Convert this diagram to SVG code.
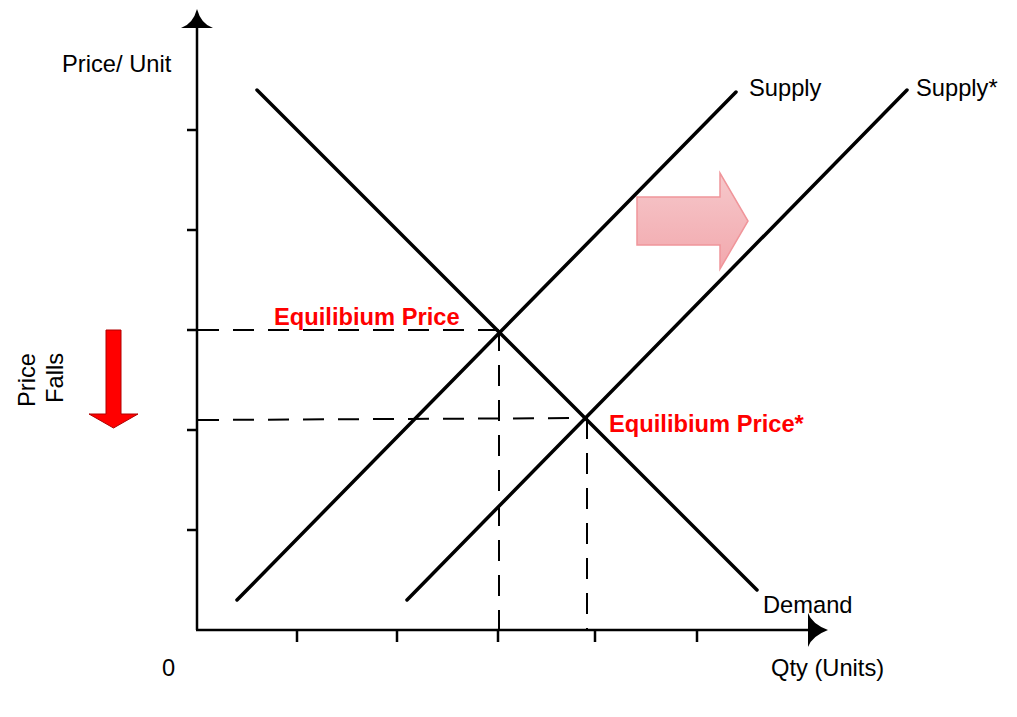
<svg xmlns="http://www.w3.org/2000/svg" width="1017" height="717" viewBox="0 0 1017 717">
<style>
.lbl{font-family:"Liberation Sans",Arial,sans-serif;font-size:23.7px;fill:#000}
.eq{font-family:"Liberation Sans",Arial,sans-serif;font-size:23.7px;font-weight:bold;fill:#ff0000}
.axis{stroke:#000;stroke-width:2.5;fill:none}
.tick{stroke:#000;stroke-width:2.5}
.curve{stroke:#000;stroke-width:3.5;stroke-linecap:round;fill:none}
.dash{stroke:#000;stroke-width:2;stroke-dasharray:21 14;fill:none}
</style>
<defs>
<linearGradient id="pinkGrad" x1="0" y1="0" x2="0" y2="1">
<stop offset="0" stop-color="#f6c8cb"/>
<stop offset="1" stop-color="#f2a8ad"/>
</linearGradient>
</defs>
<rect width="1017" height="717" fill="#fff"/>
<g id="axes">
<line class="axis" x1="197" y1="24" x2="197" y2="630"/>
<line class="axis" x1="196" y1="630" x2="810" y2="630"/>
<path d="M197,9 Q201,24 213,28 L181,28 Q193,24 197,9 Z" fill="#000"/>
<path d="M828,630 Q812,636 808,647 L808,613 Q812,624 828,630 Z" fill="#000"/>
<line class="tick" x1="187" y1="130" x2="197" y2="130"/>
<line class="tick" x1="187" y1="230" x2="197" y2="230"/>
<line class="tick" x1="187" y1="330" x2="197" y2="330"/>
<line class="tick" x1="187" y1="430" x2="197" y2="430"/>
<line class="tick" x1="187" y1="530" x2="197" y2="530"/>
<line class="tick" x1="297" y1="630" x2="297" y2="642"/>
<line class="tick" x1="397" y1="630" x2="397" y2="642"/>
<line class="tick" x1="498" y1="630" x2="498" y2="642"/>
<line class="tick" x1="595" y1="630" x2="595" y2="642"/>
<line class="tick" x1="697" y1="630" x2="697" y2="642"/>
</g>
<g id="connectors">
<line class="dash" x1="198" y1="330" x2="499" y2="330"/>
<line class="dash" x1="198" y1="420" x2="586" y2="418"/>
<line class="dash" x1="499" y1="330" x2="499" y2="630"/>
<line class="dash" x1="587" y1="418" x2="587" y2="630"/>
</g>
<g id="demand">
<line class="curve" x1="257" y1="90" x2="757" y2="590"/>
<text class="lbl" x="763" y="613">Demand</text>
</g>
<g id="supply">
<line class="curve" x1="237" y1="600" x2="736" y2="92"/>
<text class="lbl" x="749" y="96">Supply</text>
</g>
<g id="supply-star">
<line class="curve" x1="407" y1="600" x2="907" y2="90"/>
<text class="lbl" x="916" y="96">Supply*</text>
</g>
<g id="shift-arrow">
<path d="M637,197 L720,197 L720,173 L748,221 L720,269 L720,245 L637,245 Z" fill="url(#pinkGrad)" stroke="#f0959a" stroke-width="1.5"/>
</g>
<g id="price-falls">
<path d="M106,330 L121,330 L121,414 L138,414 L113.5,428 L89,414 L106,414 Z" fill="#ff0000" stroke="#b00000" stroke-width="1"/>
<text class="lbl" transform="translate(35,380) rotate(-90)" text-anchor="middle">Price</text>
<text class="lbl" transform="translate(63,378) rotate(-90)" text-anchor="middle">Falls</text>
</g>
<g id="labels">
<text class="lbl" x="62" y="72">Price/ Unit</text>
<text class="lbl" x="162" y="676">0</text>
<text class="lbl" x="771" y="676">Qty (Units)</text>
</g>
<g id="equilibrium">
<text class="eq" x="274" y="325">Equilibium Price</text>
</g>
<g id="equilibrium-star">
<text class="eq" x="609" y="432">Equilibium Price*</text>
</g>
</svg>
